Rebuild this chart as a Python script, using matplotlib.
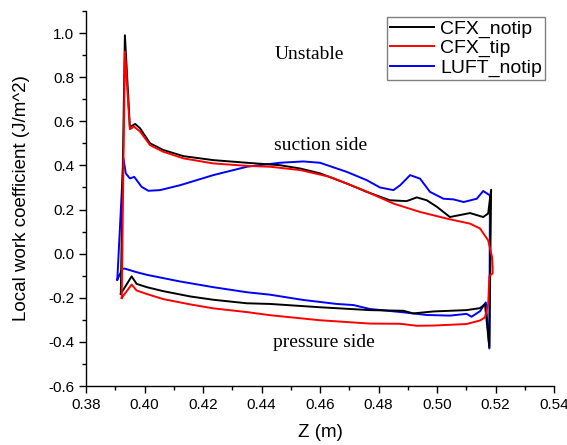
import numpy as np
import matplotlib
matplotlib.use("Agg")
import matplotlib.pyplot as plt
from matplotlib.ticker import MultipleLocator, FormatStrFormatter

# CFX_notip (black)
notip_suc_z = [0.3919, 0.3933, 0.3950, 0.3968, 0.3985, 0.4019, 0.4064, 0.4133, 0.4235, 0.4350,
               0.4463, 0.4532, 0.4600, 0.4691, 0.4760, 0.4839, 0.4896, 0.4931, 0.4965, 0.5000,
               0.5044, 0.5113, 0.5158, 0.5175, 0.5185]
notip_suc_w = [-0.182, 0.990, 0.574, 0.588, 0.568, 0.500, 0.470, 0.442, 0.424, 0.412,
               0.401, 0.386, 0.364, 0.318, 0.280, 0.242, 0.238, 0.255, 0.242, 0.212,
               0.166, 0.184, 0.166, 0.182, 0.290]
notip_pre_z = [0.3919, 0.3956, 0.3973, 0.4008, 0.4064, 0.4156, 0.4235, 0.4350, 0.4429, 0.4600,
               0.4771, 0.4885, 0.4919, 0.4988, 0.5101, 0.5147, 0.5164, 0.5179]
notip_pre_w = [-0.182, -0.103, -0.137, -0.152, -0.170, -0.194, -0.209, -0.225, -0.228, -0.243,
               -0.256, -0.259, -0.271, -0.262, -0.256, -0.247, -0.229, -0.425]

# CFX_tip (red)
tip_suc_z = [0.3922, 0.3933, 0.3950, 0.3964, 0.3985, 0.4019, 0.4064, 0.4133, 0.4235, 0.4350,
             0.4429, 0.4532, 0.4634, 0.4748, 0.4851, 0.4942, 0.5033, 0.5113, 0.5147, 0.5175,
             0.5188, 0.5190]
tip_suc_w = [-0.201, 0.917, 0.564, 0.576, 0.553, 0.492, 0.462, 0.432, 0.409, 0.398,
             0.394, 0.379, 0.348, 0.288, 0.227, 0.189, 0.159, 0.136, 0.114, 0.060,
             -0.015, -0.060]
tip_pre_z = [0.3922, 0.3956, 0.3973, 0.4008, 0.4064, 0.4156, 0.4235, 0.4350, 0.4429, 0.4600,
             0.4771, 0.4874, 0.4931, 0.4988, 0.5101, 0.5147, 0.5164, 0.5175, 0.5179, 0.5190]
tip_pre_w = [-0.201, -0.140, -0.167, -0.183, -0.206, -0.230, -0.248, -0.265, -0.279, -0.302,
             -0.317, -0.318, -0.327, -0.326, -0.319, -0.303, -0.289, -0.229, -0.100, -0.090]

# LUFT_notip (blue)
luft_suc_z = [0.3907, 0.3928, 0.3936, 0.3950, 0.3965, 0.3990, 0.4013, 0.4053, 0.4121, 0.4235,
              0.4350, 0.4463, 0.4543, 0.4600, 0.4691, 0.4760, 0.4805, 0.4851, 0.4874, 0.4908,
              0.4942, 0.4976, 0.5022, 0.5056, 0.5091, 0.5136, 0.5158, 0.5181]
luft_suc_w = [-0.118, 0.432, 0.364, 0.341, 0.348, 0.303, 0.285, 0.288, 0.310, 0.356,
              0.394, 0.412, 0.418, 0.412, 0.371, 0.333, 0.300, 0.288, 0.310, 0.356,
              0.340, 0.280, 0.249, 0.246, 0.234, 0.249, 0.284, 0.264]
luft_pre_z = [0.3907, 0.3925, 0.3933, 0.3973, 0.4008, 0.4121, 0.4235, 0.4350, 0.4429, 0.4543,
              0.4657, 0.4714, 0.4771, 0.4885, 0.4965, 0.5044, 0.5101, 0.5118, 0.5147, 0.5167,
              0.5179]
luft_pre_w = [-0.118, -0.068, -0.068, -0.084, -0.096, -0.126, -0.152, -0.175, -0.186, -0.210,
              -0.228, -0.233, -0.251, -0.266, -0.278, -0.281, -0.273, -0.286, -0.261, -0.221,
              -0.430]

series_names = ["CFX_notip", "CFX_tip", "LUFT_notip"]

plt.rcParams['font.family'] = ['Liberation Sans', 'DejaVu Sans']

fig = plt.figure(figsize=(5.67, 4.45), dpi=100)
ax = fig.add_axes([86 / 567, 1 - 386 / 445, 468 / 567, 375 / 445])


def loop(sz, sw, pz, pw):
    # suction side, then back along the pressure side
    return sz + pz[::-1], sw + pw[::-1]


lines = {}
z, w = loop(luft_suc_z, luft_suc_w, luft_pre_z, luft_pre_w)
lines["LUFT_notip"], = ax.plot(z, w, color="#0000ff", lw=1.4)
z, w = loop(notip_suc_z, notip_suc_w, notip_pre_z, notip_pre_w)
lines["CFX_notip"], = ax.plot(z, w, color="black", lw=1.4)
z, w = loop(tip_suc_z, tip_suc_w, tip_pre_z, tip_pre_w)
lines["CFX_tip"], = ax.plot(z, w, color="#ff0000", lw=1.4)

ax.set_xlim(0.38, 0.54)
ax.set_ylim(-0.6, 1.1)
ax.xaxis.set_major_locator(MultipleLocator(0.02))
ax.xaxis.set_minor_locator(MultipleLocator(0.01))
ax.yaxis.set_major_locator(MultipleLocator(0.2))
ax.yaxis.set_minor_locator(MultipleLocator(0.1))
ax.xaxis.set_major_formatter(FormatStrFormatter('%.2f'))
ax.yaxis.set_major_formatter(FormatStrFormatter('%.1f'))
ax.set_yticks(np.arange(-0.6, 1.01, 0.2))

for s in ["top", "right"]:
    ax.spines[s].set_visible(False)
for s in ["left", "bottom"]:
    ax.spines[s].set_linewidth(1.0)

ax.tick_params(axis='both', which='major', direction='out', length=5, width=1.0, labelsize=11)
ax.tick_params(axis='both', which='minor', direction='out', length=3, width=1.0)

ax.set_xlabel("Z (m)", fontsize=13.5, labelpad=9)
ax.set_ylabel("Local work coefficient (J/m^2)", fontsize=13.5, labelpad=13)

ax.text(0.4562, 0.905, "Unstable", family="Liberation Serif", fontsize=14, ha="center", va="center")
ax.text(0.4603, 0.492, "suction side", family="Liberation Serif", fontsize=14, ha="center", va="center")
ax.text(0.4614, -0.402, "pressure side", family="Liberation Serif", fontsize=14, ha="center", va="center")

leg = ax.legend([lines[n] for n in series_names], series_names, loc="upper right",
                bbox_to_anchor=(0.981, 0.984), borderaxespad=0, fontsize=14,
                handlelength=2.3, handletextpad=0.3, labelspacing=0.1, borderpad=0.15,
                fancybox=False, framealpha=1)
leg.get_frame().set_edgecolor("#808080")
leg.get_frame().set_linewidth(1.0)

fig.savefig("out.png", dpi=100)
